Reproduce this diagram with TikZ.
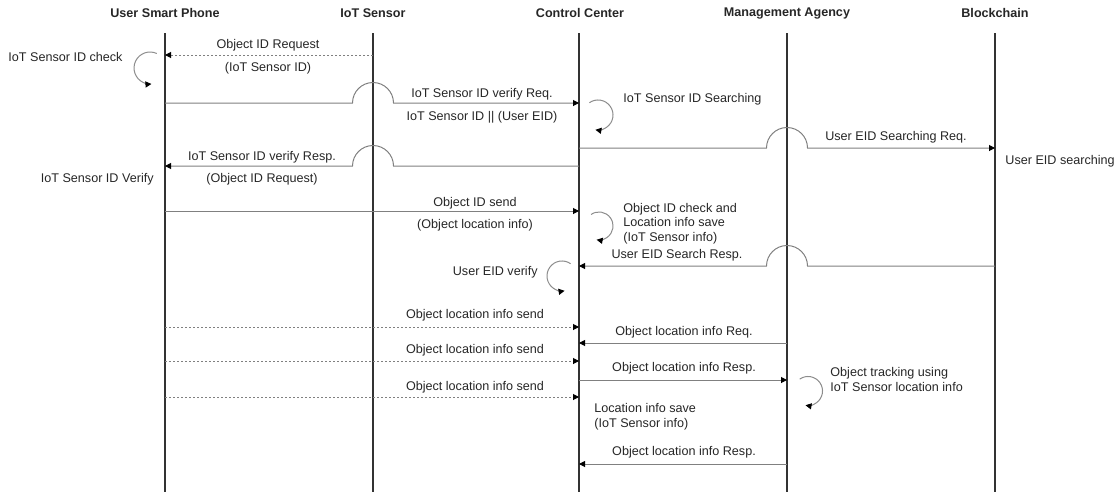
\documentclass[tikz,border=0pt]{standalone}
\usepackage{fontspec}
\setmainfont{Liberation Sans}
\usetikzlibrary{arrows.meta}
\begin{document}
\begin{tikzpicture}[x=0.5pt,y=0.5pt,
  txt/.style={font=\fontsize{6.3pt}{7.25pt}\selectfont, text=black!85, inner sep=0pt},
  head/.style={txt, font=\fontsize{6.3pt}{7.25pt}\selectfont\bfseries},
  life/.style={line width=0.75pt, black!80},
  tip/.style={-{Triangle[length=3pt,width=3pt,color=black]}},
  msg/.style={line width=0.5pt, black!50, tip},
  dmsg/.style={msg, dash pattern=on 1pt off 1pt},
  selfloop/.style={line width=0.5pt, black!45, tip}]
\useasboundingbox (0,0) rectangle (1119,-493);

% participants
\node[head] (hP) at (165,-13) {User Smart Phone};
\node[head] (hS) at (373,-13) {IoT Sensor};
\node[head] (hC) at (580,-13) {Control Center};
\node[head] (hM) at (787,-13) {Management Agency};
\node[head] (hB) at (995,-13) {Blockchain};

% lifelines
\coordinate (P0) at (165,-33);  \coordinate (P1) at (165,-492);
\coordinate (S0) at (373,-33);  \coordinate (S1) at (373,-492);
\coordinate (C0) at (579,-33);  \coordinate (C1) at (579,-492);
\coordinate (M0) at (787,-33);  \coordinate (M1) at (787,-492);
\coordinate (B0) at (995,-33);  \coordinate (B1) at (995,-492);
\foreach \l in {P,S,C,M,B} \draw[life] (\l0) -- (\l1);

% 1: object ID request
\coordinate (a1) at (373,-55); \coordinate (b1) at (165,-55);
\draw[dmsg] (a1) -- (b1);
\node[txt] (t1a) at (268,-45) {Object ID Request};
\node[txt] (t1b) at (268,-68) {(IoT Sensor ID)};
\node[txt, anchor=west] (n1) at (8,-57) {IoT Sensor ID check};
\coordinate (l1) at (156.8,-53.5);
\draw[selfloop] (l1) arc[start angle=65, end angle=275, radius=16];

% 2: verify request (jumps the IoT Sensor lifeline)
\coordinate (a2) at (165,-103); \coordinate (j2) at (352.5,-103); \coordinate (b2) at (579,-103);
\draw[msg] (a2) -- (j2) arc[start angle=180, end angle=0, radius=20.5] -- (b2);
\node[txt] (t2a) at (482,-94) {IoT Sensor ID verify Req.};
\node[txt] (t2b) at (482,-117) {IoT Sensor ID || (User EID)};
\node[txt, anchor=west] (n2) at (623,-99) {IoT Sensor ID Searching};
\coordinate (l2) at (589.4,-102.7);
\draw[selfloop] (l2) arc[start angle=125, end angle=-100, radius=15];

% 3: EID searching request (jumps the Management Agency lifeline)
\coordinate (a3) at (579,-148); \coordinate (j3) at (766.5,-148); \coordinate (b3) at (995,-148);
\draw[msg] (a3) -- (j3) arc[start angle=180, end angle=0, radius=20.5] -- (b3);
\node[txt] (t3) at (896,-137) {User EID Searching Req.};
\node[txt, anchor=west] (n3) at (1005,-161) {User EID searching};

% 4: verify response (jumps the IoT Sensor lifeline)
\coordinate (a4) at (579,-166); \coordinate (j4) at (393.5,-166); \coordinate (b4) at (165,-166);
\draw[msg] (a4) -- (j4) arc[start angle=0, end angle=180, radius=20.5] -- (b4);
\node[txt] (t4a) at (262,-157) {IoT Sensor ID verify Resp.};
\node[txt] (t4b) at (262,-179) {(Object ID Request)};
\node[txt, anchor=east] (n4) at (154,-179) {IoT Sensor ID Verify};

% 5: object ID send
\coordinate (a5) at (165,-211); \coordinate (b5) at (579,-211);
\draw[msg] (a5) -- (b5);
\node[txt] (t5a) at (475,-203) {Object ID send};
\node[txt] (t5b) at (475,-225) {(Object location info)};
\node[txt, anchor=west, align=left] (n5) at (623,-223.5) {Object ID check and\\Location info save\\(IoT Sensor info)};
\coordinate (l5) at (591,-214.5);
\draw[selfloop] (l5) arc[start angle=125, end angle=-100, radius=14];

% 6: EID search response (jumps the Management Agency lifeline)
\coordinate (a6) at (995,-266); \coordinate (j6) at (807.5,-266); \coordinate (b6) at (579,-266);
\draw[msg] (a6) -- (j6) arc[start angle=0, end angle=180, radius=20.5] -- (b6);
\node[txt] (t6) at (677,-255) {User EID Search Resp.};
\node[txt, anchor=east] (n6) at (538,-272) {User EID verify};
\coordinate (l6) at (570.6,-263.7);
\draw[selfloop] (l6) arc[start angle=55, end angle=280, radius=15];

% location updates and requests
\coordinate (a7) at (165,-327); \coordinate (b7) at (579,-327);
\draw[dmsg] (a7) -- (b7);
\node[txt] (t7) at (475,-315) {Object location info send};

\coordinate (a8) at (787,-343); \coordinate (b8) at (579,-343);
\draw[msg] (a8) -- (b8);
\node[txt] (t8) at (684,-332) {Object location info Req.};

\coordinate (a9) at (165,-361); \coordinate (b9) at (579,-361);
\draw[dmsg] (a9) -- (b9);
\node[txt] (t9) at (475,-350) {Object location info send};

\coordinate (a10) at (579,-380); \coordinate (b10) at (787,-380);
\draw[msg] (a10) -- (b10);
\node[txt] (t10) at (684,-368) {Object location info Resp.};
\node[txt, anchor=west, align=left] (n10) at (830,-379.5) {Object tracking using\\IoT Sensor location info};
\coordinate (l10) at (799.7,-379.1);
\draw[selfloop] (l10) arc[start angle=125, end angle=-100, radius=14.5];

\coordinate (a11) at (165,-397); \coordinate (b11) at (579,-397);
\draw[dmsg] (a11) -- (b11);
\node[txt] (t11) at (475,-387) {Object location info send};
\node[txt, anchor=west, align=left] (n11) at (594,-416.5) {Location info save\\(IoT Sensor info)};

\coordinate (a12) at (787,-464); \coordinate (b12) at (579,-464);
\draw[msg] (a12) -- (b12);
\node[txt] (t12) at (684,-452) {Object location info Resp.};
\end{tikzpicture}
\end{document}
